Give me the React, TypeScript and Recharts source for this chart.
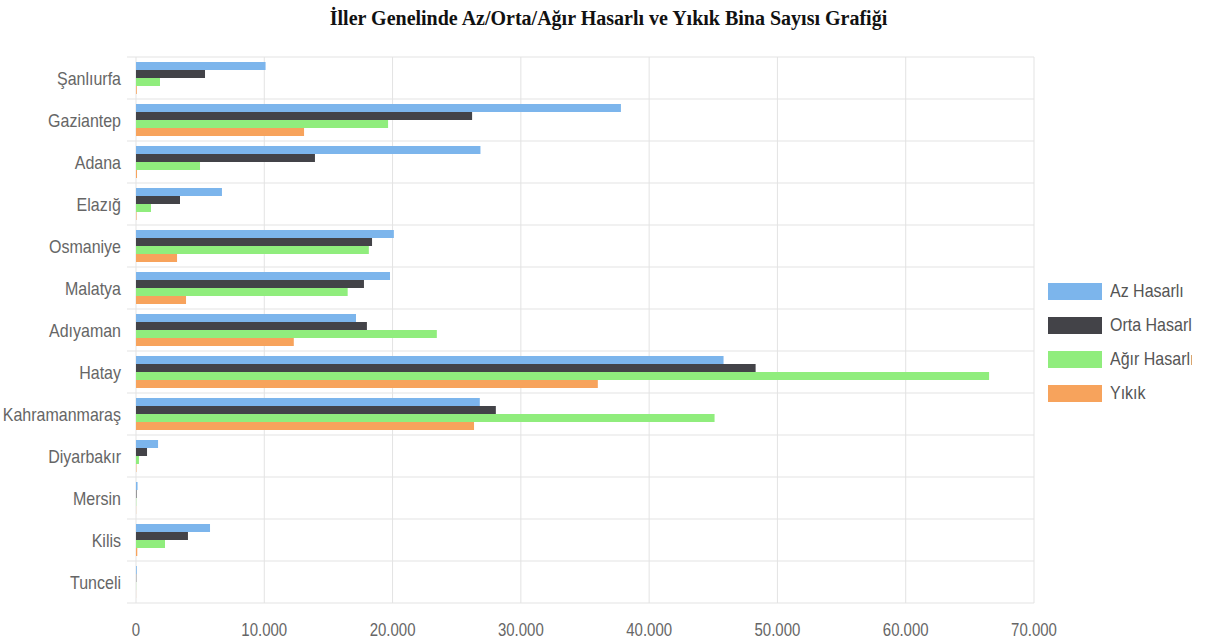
import React from "react";
import {
  BarChart,
  Bar,
  XAxis,
  YAxis,
  CartesianGrid,
  Legend,
} from "recharts";

// Provinces, top to bottom as they appear on the chart.
const PROVINCES = [
  "Şanlıurfa",
  "Gaziantep",
  "Adana",
  "Elazığ",
  "Osmaniye",
  "Malatya",
  "Adıyaman",
  "Hatay",
  "Kahramanmaraş",
  "Diyarbakır",
  "Mersin",
  "Kilis",
  "Tunceli",
];

const AZ_HASARLI = [10100, 37800, 26850, 6700, 20100, 19800, 17150, 45800, 26800, 1720, 120, 5770, 60];
const ORTA_HASARLI = [5380, 26200, 13950, 3430, 18400, 17770, 18000, 48300, 28050, 860, 40, 4050, 20];
const AGIR_HASARLI = [1870, 19650, 4990, 1170, 18150, 16500, 23450, 66500, 45100, 230, 20, 2260, 10];
const YIKIK = [60, 13100, 80, 40, 3200, 3900, 12300, 36000, 26350, 30, 10, 100, 5];

const X_TICKS = [0, 10000, 20000, 30000, 40000, 50000, 60000, 70000];

// Highcharts-style default palette
const SERIES = [
  { key: "az", name: "Az Hasarlı", color: "#7cb5ec" },
  { key: "orta", name: "Orta Hasarlı", color: "#434348" },
  { key: "agir", name: "Ağır Hasarlı", color: "#90ed7d" },
  { key: "yikik", name: "Yıkık", color: "#f7a35c" },
];

const rows = PROVINCES.map((name, i) => ({
  name,
  az: AZ_HASARLI[i],
  orta: ORTA_HASARLI[i],
  agir: AGIR_HASARLI[i],
  yikik: YIKIK[i],
}));

// 10000 -> "10.000"
const fmt = (v: number) => String(v).replace(/\B(?=(\d{3})+(?!\d))/g, ".");

const FONT = '"Liberation Sans", Arial, sans-serif';
// the source screenshot is a bit stretched vertically, text looks tall
const STRETCH = 1.2;

function ProvinceTick({ x, y, payload }: any) {
  return (
    <g transform={`translate(${x},${y}) scale(1,${STRETCH})`}>
      <text x={0} y={0} dy="0.355em" textAnchor="end" fill="#666" fontSize={16} fontFamily={FONT}>
        {payload.value}
      </text>
    </g>
  );
}

function ValueTick({ x, y, payload }: any) {
  return (
    <g transform={`translate(${x},${y}) scale(1,${STRETCH})`}>
      <text x={0} y={0} dy="0.71em" textAnchor="middle" fill="#666" fontSize={15} fontFamily={FONT}>
        {fmt(payload.value)}
      </text>
    </g>
  );
}

function LegendBox({ payload }: any) {
  // keep the series order (recharts sorts legend items by name otherwise)
  const items = SERIES.map((s) => (payload || []).find((p: any) => p.value === s.name)).filter(Boolean);
  return (
    <div
      style={{
        width: 158, // the screenshot is cut off on the right, labels get clipped
        overflow: "hidden",
        paddingLeft: 14,
        boxSizing: "border-box",
        fontFamily: FONT,
        fontSize: 16,
        color: "#555",
      }}
    >
      {items.map((p: any) => (
        <div
          key={p.value}
          style={{
            height: 34,
            display: "flex",
            alignItems: "center",
            whiteSpace: "nowrap",
          }}
        >
          <span
            style={{
              display: "inline-block",
              width: 54,
              height: 17,
              background: p.color,
              marginRight: 8,
              flexShrink: 0,
            }}
          />
          <span style={{ display: "inline-block", transform: `scaleY(${STRETCH})` }}>{p.value}</span>
        </div>
      ))}
    </div>
  );
}

export default function App() {
  return (
    <div
      style={{
        position: "absolute",
        left: 0,
        top: 0,
        width: 1217,
        height: 642,
        background: "#fff",
        overflow: "hidden",
      }}
    >
      <div
        style={{
          position: "absolute",
          top: 6,
          left: 0,
          width: 1217,
          textAlign: "center",
          fontFamily: '"Liberation Serif", "Times New Roman", serif',
          fontWeight: "bold",
          fontSize: 20,
          lineHeight: "24px",
          color: "#111",
        }}
      >
        İller Genelinde Az/Orta/Ağır Hasarlı ve Yıkık Bina Sayısı Grafiği
      </div>
      <BarChart
        width={1217}
        height={642}
        data={rows}
        layout="vertical"
        margin={{ top: 57, right: 0, bottom: 0, left: 0 }}
        barCategoryGap={5}
        barGap={0}
      >
        <CartesianGrid
          stroke="#e3e3e3"
          x={127}
          width={907}
          horizontalCoordinatesGenerator={({ offset }: any) =>
            PROVINCES.map((_, i) => offset.top + (i * offset.height) / PROVINCES.length).concat(
              offset.top + offset.height
            )
          }
        />
        <XAxis
          type="number"
          domain={[0, 70000]}
          ticks={X_TICKS}
          axisLine={false}
          tickLine={false}
          tickSize={10}
          tickMargin={10}
          height={39}
          interval={0}
          tick={<ValueTick />}
        />
        <YAxis
          type="category"
          dataKey="name"
          width={136}
          axisLine={false}
          tickLine={false}
          tickSize={10}
          tickMargin={5}
          interval={0}
          tick={<ProvinceTick />}
        />
        <Legend
          layout="vertical"
          align="right"
          verticalAlign="top"
          content={<LegendBox />}
          wrapperStyle={{ top: 274, right: 0, width: 183 }}
        />
        {SERIES.map((s) => (
          <Bar
            key={s.key}
            dataKey={s.key}
            name={s.name}
            fill={s.color}
            isAnimationActive={false}
          />
        ))}
      </BarChart>
    </div>
  );
}
